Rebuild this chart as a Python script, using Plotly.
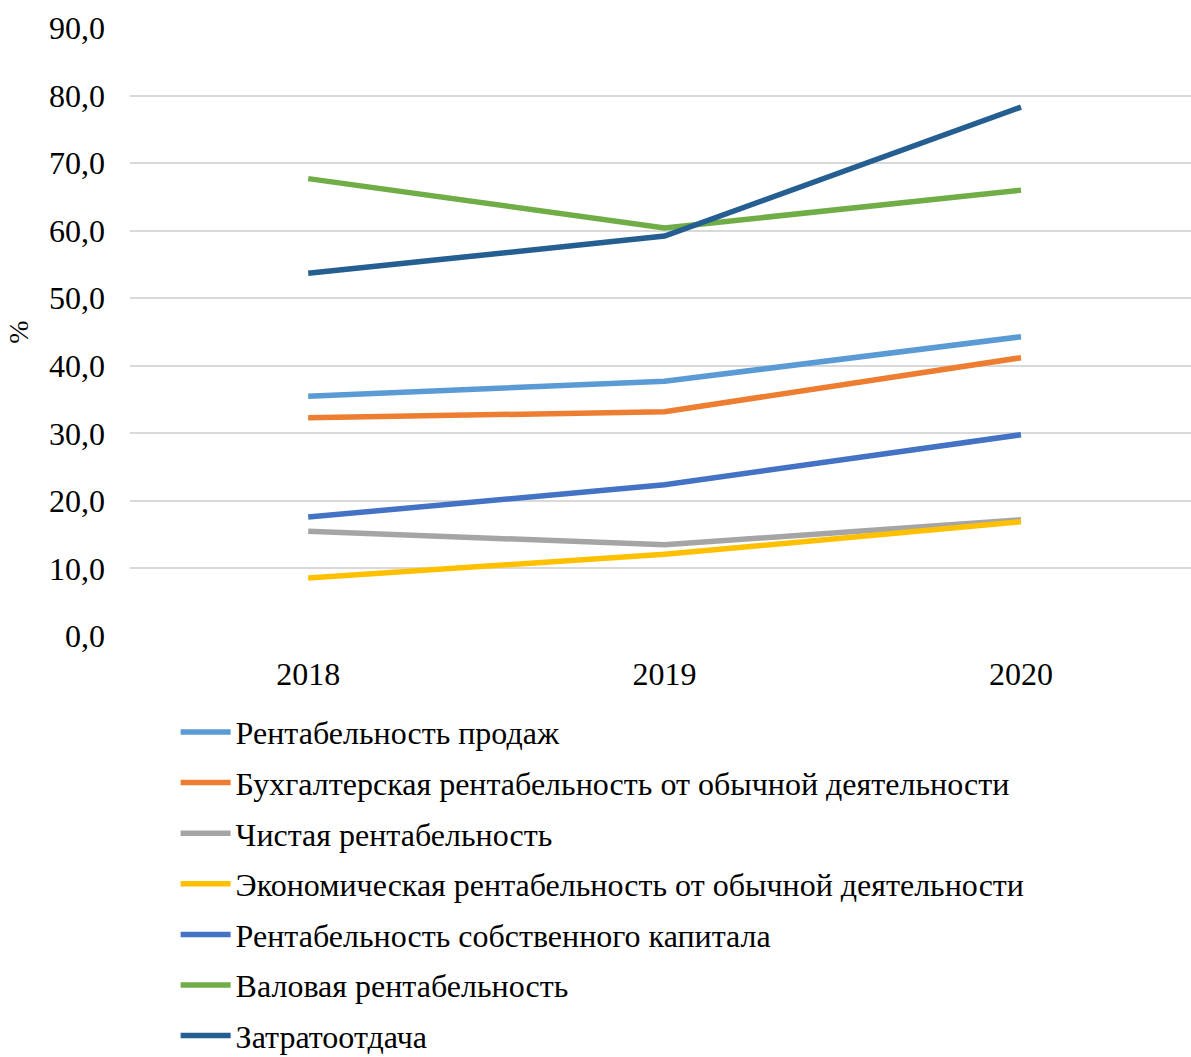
import plotly.graph_objects as go

years = ["2018", "2019", "2020"]

series_names = [
    "Рентабельность продаж",
    "Бухгалтерская рентабельность от обычной деятельности",
    "Чистая рентабельность",
    "Экономическая рентабельность от обычной деятельности",
    "Рентабельность собственного капитала",
    "Валовая рентабельность",
    "Затратоотдача",
]

sales_margin = [35.5, 37.7, 44.3]
accounting_margin = [32.3, 33.2, 41.2]
net_margin = [15.5, 13.5, 17.2]
economic_margin = [8.6, 12.1, 16.9]
equity_return = [17.6, 22.4, 29.8]
gross_margin = [67.7, 60.4, 66.0]
cost_return = [53.7, 59.2, 78.3]

series_values = [
    sales_margin,
    accounting_margin,
    net_margin,
    economic_margin,
    equity_return,
    gross_margin,
    cost_return,
]

colors = ["#5B9BD5", "#ED7D31", "#A5A5A5", "#FFC000", "#4472C4", "#70AD47", "#255E91"]

y_ticks = [0, 10, 20, 30, 40, 50, 60, 70, 80, 90]
y_tick_labels = [f"{v:.1f}".replace(".", ",") for v in y_ticks]

font_family = "Liberation Serif"

fig = go.Figure()
for i, (name, vals, col) in enumerate(zip(series_names, series_values, colors)):
    fig.add_trace(go.Scatter(
        x=years, y=vals, name=name, mode="lines",
        line=dict(color=col, width=5.5),
        legendgroup=f"g{i}",
    ))

fig.update_layout(
    width=1191, height=1057,
    paper_bgcolor="white", plot_bgcolor="white",
    margin=dict(l=130, r=0, t=28, b=421, autoexpand=False),
    font=dict(family=font_family, size=32, color="black"),
    showlegend=True,
    legend=dict(
        x=0.043, y=-0.113, xanchor="left", yanchor="top",
        orientation="v", tracegroupgap=6,
        font=dict(family=font_family, size=32, color="black"),
        itemwidth=50,
        bgcolor="rgba(0,0,0,0)",
    ),
    xaxis=dict(
        type="category", range=[-0.5, 2.477],
        showgrid=False, showline=False, zeroline=False,
        ticks="", tickfont=dict(family=font_family, size=32), ticklabelstandoff=16,
    ),
    yaxis=dict(
        range=[0, 90], tickvals=y_ticks, ticktext=y_tick_labels,
        showgrid=True, gridcolor="#D9D9D9", gridwidth=2,
        zeroline=False, showline=False, ticks="",
        tickfont=dict(family=font_family, size=32), ticklabelstandoff=24,
        title=dict(text="%", font=dict(family=font_family, size=28), standoff=12),
    ),
)

fig.write_html("out.html")
